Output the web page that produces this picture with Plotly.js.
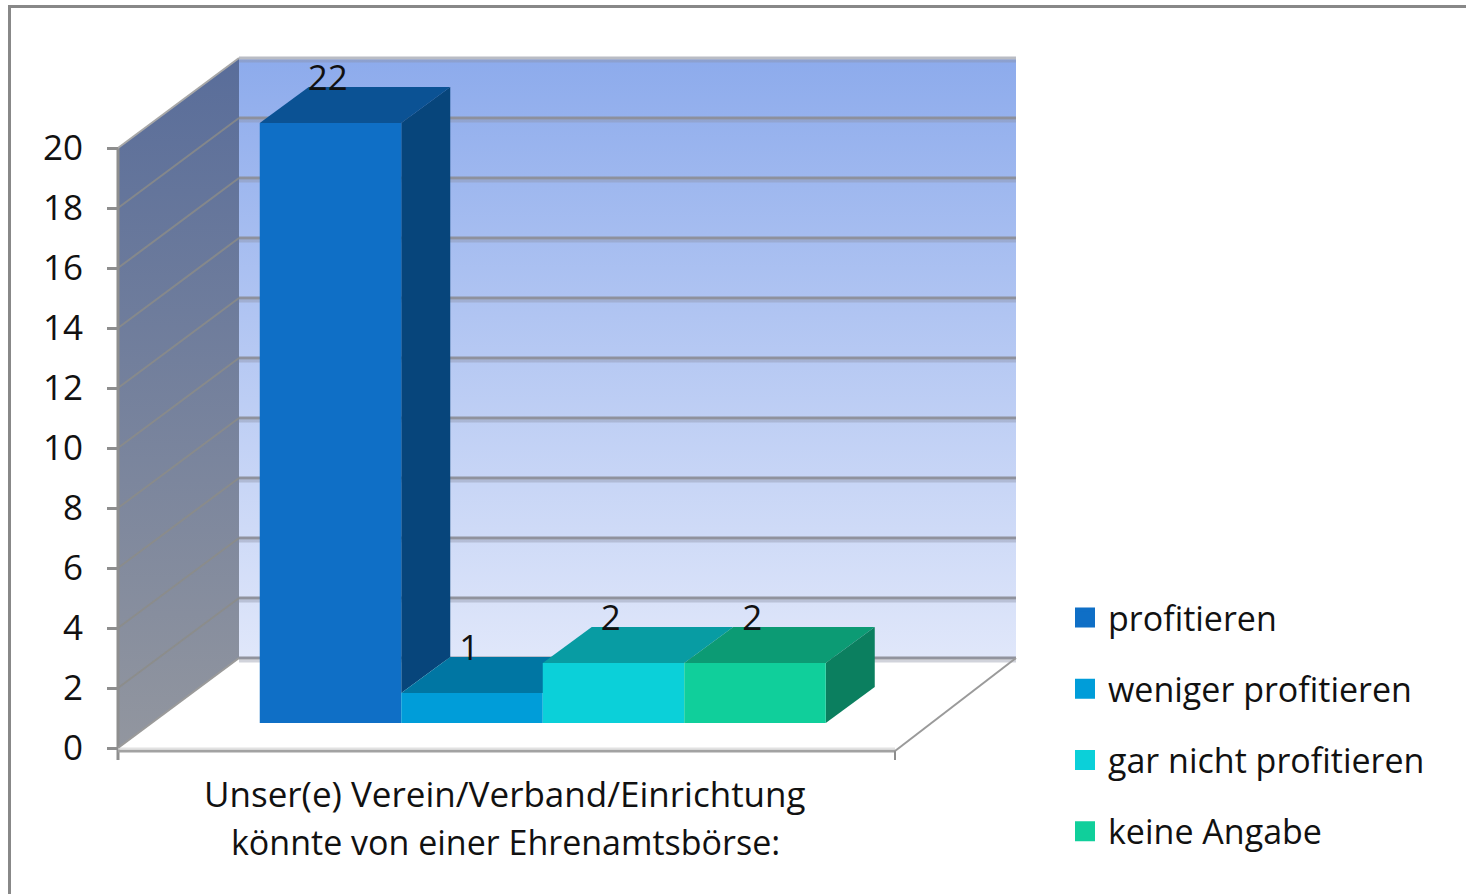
<!DOCTYPE html>
<html><head><meta charset="utf-8">
<script src="https://cdn.plot.ly/plotly-3.0.1.min.js"></script>
<style>html,body{margin:0;padding:0;background:#fff}#c{width:1466px;height:894px}</style>
</head><body><div id="c"></div>
<script>
// ---- data ----
const categories = ['profitieren', 'weniger profitieren', 'gar nicht profitieren', 'keine Angabe'];
const values = [22, 1, 2, 2];
const yTicks = [0, 2, 4, 6, 8, 10, 12, 14, 16, 18, 20];
const axisLabelLines = ['Unser(e) Verein/Verband/Einrichtung', 'könnte von einer Ehrenamtsbörse:'];
const frontColors = ['#0f6fc6', '#009dd9', '#0bd0d9', '#10cf9b'];
const topColors = ['#0b5294', '#0076a3', '#089ca3', '#0c9b74'];
const sideColors = ['#07457b', '#005f85', '#067f85', '#0b7f5f'];

// ---- 3D projection constants (axis units: one bar = 1 on x, value = 1 on y) ----
const AX_MAX = 20;
const W = 1466, H = 894;
const BAR_PX = 141.5, UNIT_PX = 30, X0_PX = 330.5, Y0_PX = 748;
const xRange = [-X0_PX / BAR_PX, (W - X0_PX) / BAR_PX];
const yRange = [(Y0_PX - H) / UNIT_PX, Y0_PX / UNIT_PX];
const xL = (118 - X0_PX) / BAR_PX, xR = (895 - X0_PX) / BAR_PX;
const WALL_DX = 121 / BAR_PX, WALL_DY = 3;
const BAR_BASE = 25 / UNIT_PX, BAR_DX = 49 / BAR_PX, BAR_DY = 1.2;
const FONT = {family: '"Open Sans", sans-serif', size: 35, color: '#111'};
const LEGEND_FONT = {family: '"Open Sans", sans-serif', size: 34, color: '#111'};
const LINE2_FONT = {family: '"Open Sans", sans-serif', size: 34, color: '#111'};

function poly(xs, ys, color, extra) {
  return Object.assign({type: 'scatter', mode: 'lines', x: xs.concat(xs[0]), y: ys.concat(ys[0]),
    fill: 'toself', fillcolor: color, line: {width: 0}, hoverinfo: 'skip', showlegend: false}, extra || {});
}
function seg(xs, ys, color, width) {
  return {type: 'scatter', mode: 'lines', x: xs, y: ys, line: {color: color, width: width},
    hoverinfo: 'skip', showlegend: false};
}
const traces = [];
// back wall and side wall
traces.push(poly([xL + WALL_DX, xR + WALL_DX, xR + WALL_DX, xL + WALL_DX],
  [WALL_DY, WALL_DY, WALL_DY + AX_MAX, WALL_DY + AX_MAX], '#8dabec',
  {fillgradient: {type: 'vertical', colorscale: [[0, '#e0e7fa'], [1, '#8dabec']]}}));
traces.push(poly([xL, xL + WALL_DX, xL + WALL_DX, xL],
  [0, WALL_DY, WALL_DY + AX_MAX, AX_MAX], '#5a6e9a',
  {fillgradient: {type: 'vertical', colorscale: [[0, '#92969f'], [1, '#596d9a']]}}));
// grid lines: a dark line with a faint band just below it
yTicks.forEach(v => {
  traces.push(seg([xL + WALL_DX, xR + WALL_DX], [WALL_DY + v - 0.1, WALL_DY + v - 0.1],
    'rgba(140,145,165,0.4)', 3));
  traces.push(seg([xL + WALL_DX, xR + WALL_DX], [WALL_DY + v, WALL_DY + v],
    v === AX_MAX ? '#b9bcc4' : 'rgba(140,142,152,0.95)', 3));
  if (v > 0 && v < AX_MAX) traces.push(seg([xL, xL + WALL_DX], [v, WALL_DY + v], 'rgba(140,140,135,0.8)', 2));
});
// frame of the floor and axes
traces.push(seg([xL, xL], [AX_MAX, -0.4], '#8e8e8e', 3));
traces.push(seg([xL, xR], [-0.1, -0.1], '#a2a2a2', 3));
traces.push(seg([xL, xR], [-0.02, -0.02], '#e2e2e2', 2));
traces.push(seg([xR, xR], [-0.1, -0.4], '#8e8e8e', 2));
traces.push(seg([xR, xR + WALL_DX], [-0.1, WALL_DY], '#9a9a9a', 2));
traces.push(seg([xL, xL + WALL_DX], [0, WALL_DY], '#9a9a9a', 2));
traces.push(seg([xL, xL + WALL_DX], [AX_MAX, WALL_DY + AX_MAX], '#a8a8a8', 2));

// tops and visible side faces of the bars, left to right
const shown = values.map(v => Math.min(v, AX_MAX));
shown.forEach((v, i) => {
  const t = BAR_BASE + v, l = i - 0.5, r = i + 0.5;
  traces.push(poly([l, r, r + BAR_DX, l + BAR_DX], [t, t, t + BAR_DY, t + BAR_DY], topColors[i]));
  const next = i + 1 < shown.length ? shown[i + 1] : 0;
  if (v > next) {
    const b = BAR_BASE + next;
    traces.push(poly([r, r + BAR_DX, r + BAR_DX, r], [b, b + BAR_DY, t + BAR_DY, t], sideColors[i]));
  }
});
// legend entries
categories.forEach((c, i) => traces.push({type: 'scatter', mode: 'markers', x: [null], y: [null], name: c,
  legendgroup: c, showlegend: true, hoverinfo: 'skip',
  marker: {symbol: 'square', size: 16, color: frontColors[i], line: {color: frontColors[i], width: 4}}}));
// front faces on the overlay subplot
categories.forEach((c, i) => traces.push({type: 'bar', x: [i], y: [shown[i]], base: [BAR_BASE], width: [1],
  marker: {color: frontColors[i], line: {width: 0}}, name: c, showlegend: false, hoverinfo: 'skip',
  xaxis: 'x2', yaxis: 'y2'}));
// data labels
traces.push({type: 'scatter', mode: 'text', x: values.map((v, i) => i - 0.02),
  y: shown.map(v => BAR_BASE + v + 1.4), text: values.map(String), textposition: 'middle center',
  textfont: FONT, hoverinfo: 'skip', showlegend: false, xaxis: 'x2', yaxis: 'y2'});

const xCenter = (505 - X0_PX) / BAR_PX;
const layout = {
  width: W, height: H, margin: {l: 0, r: 0, t: 0, b: 0}, paper_bgcolor: '#fff', plot_bgcolor: 'rgba(0,0,0,0)',
  barmode: 'overlay', font: FONT,
  xaxis: {range: xRange, visible: false, fixedrange: true},
  yaxis: {range: yRange, anchor: 'free', position: 118 / W, side: 'left', tickvals: yTicks, ticktext: yTicks.map(String),
    showgrid: false, zeroline: false, showline: false, ticks: 'outside', ticklen: 11, tickwidth: 3, tickcolor: '#8e8e8e',
    ticklabelstandoff: 17, tickfont: FONT, fixedrange: true},
  xaxis2: {range: xRange, overlaying: 'x', visible: false, fixedrange: true},
  yaxis2: {range: yRange, overlaying: 'y', visible: false, fixedrange: true},
  legend: {x: 1062 / W, xanchor: 'left', y: 1 - 589 / H, yanchor: 'top', font: LEGEND_FONT, tracegroupgap: 24,
    itemwidth: 36, bgcolor: 'rgba(0,0,0,0)', itemclick: false, itemdoubleclick: false},
  annotations: axisLabelLines.map((t, i) => ({xref: 'x', yref: 'paper', x: xCenter, y: 1 - (i ? 842 : 793) / H,
    text: t, showarrow: false, xanchor: 'center', yanchor: 'middle', font: i ? LINE2_FONT : FONT})),
  shapes: [
    {type: 'line', xref: 'paper', yref: 'paper', x0: 9.5 / W, x1: 9.5 / W, y0: 0, y1: 1 - 6 / H, line: {color: '#888', width: 3}},
    {type: 'line', xref: 'paper', yref: 'paper', x0: 8 / W, x1: 1, y0: 1 - 6.5 / H, y1: 1 - 6.5 / H, line: {color: '#888', width: 3}}
  ]
};
Plotly.newPlot('c', traces, layout, {displayModeBar: false, staticPlot: true});
</script></body></html>
